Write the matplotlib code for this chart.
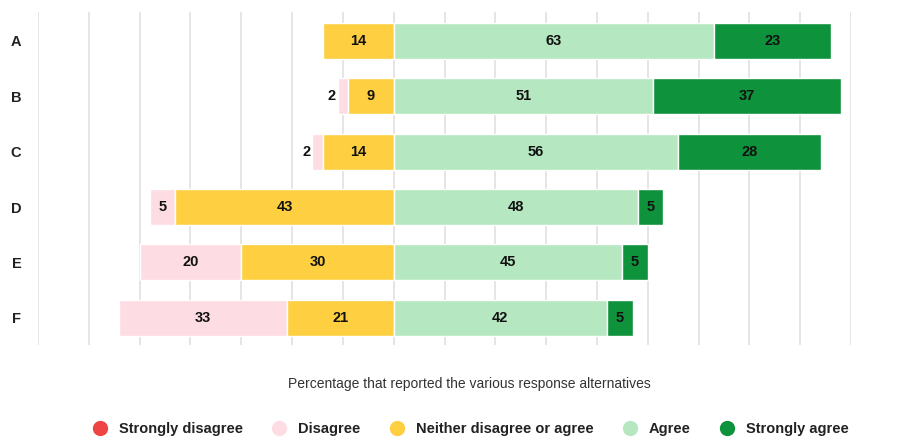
import numpy as np
import matplotlib.pyplot as plt
from matplotlib.lines import Line2D

plt.rcParams['font.family'] = ['Liberation Sans', 'DejaVu Sans']

items = ["A", "B", "C", "D", "E", "F"]
strongly_disagree = [0, 0, 0, 0, 0, 0]
disagree = [0, 2, 2, 5, 20, 33]
neither = [14, 9, 14, 43, 30, 21]
agree = [63, 51, 56, 48, 45, 42]
strongly_agree = [23, 37, 28, 5, 5, 5]

names = ["Strongly disagree", "Disagree", "Neither disagree or agree", "Agree", "Strongly agree"]
colors = ["#ef4444", "#fddde3", "#fecf40", "#b5e8c0", "#0e923c"]

sd = np.array(strongly_disagree)
d = np.array(disagree)
n = np.array(neither)
a = np.array(agree)
sa = np.array(strongly_agree)

# negative side: neutral sits just left of zero, then disagree, then strongly disagree
segments = [
    (sd, -(n + d + sd), colors[0]),
    (d, -(n + d), colors[1]),
    (n, -n, colors[2]),
    (a, np.zeros_like(a), colors[3]),
    (sa, a, colors[4]),
]

fig = plt.figure(figsize=(8.98, 4.38), dpi=100)
ax = fig.add_axes([38 / 898, 1 - 345 / 438, (851 - 38) / 898, (345 - 12) / 438])

y = np.arange(len(items))
for vals, lefts, col in segments:
    ax.barh(y, vals, left=lefts, height=0.65, color=col,
            edgecolor="white", linewidth=1, zorder=2)
    for yi, v, l in zip(y, vals, lefts):
        if v == 0:
            continue
        if v < 4:
            ax.text(l - 0.4, yi, str(v), ha="right", va="center",
                    fontsize=10.5, fontweight="bold", color="#111111", zorder=3)
        else:
            ax.text(l + v / 2, yi, str(v), ha="center", va="center",
                    fontsize=10.5, fontweight="bold", color="#111111", zorder=3)

ax.set_xlim(-70, 90)
ax.set_ylim(5.49, -0.52)
ax.set_xticks(np.arange(-70, 91, 10))
ax.set_xticklabels([])
ax.tick_params(axis="x", length=0)
ax.grid(axis="x", color="#e0e0e0", linewidth=1.2, zorder=0)
ax.set_axisbelow(True)
ax.set_yticks(y)
ax.set_yticklabels(items, fontsize=10.5, fontweight="bold", color="#222222")
ax.tick_params(axis="y", length=0, pad=12)
for s in ax.spines.values():
    s.set_visible(False)

fig.text(0.523, 1 - 384 / 438, "Percentage that reported the various response alternatives",
         ha="center", va="center", fontsize=10, color="#333333")

handles = [Line2D([0], [0], marker="o", linestyle="", markersize=10,
                  markerfacecolor=c, markeredgecolor=c) for c in colors]
leg = fig.legend(handles, names, loc="center", bbox_to_anchor=(0.52, 1 - 429 / 438),
                 ncol=5, frameon=False, handletextpad=0.3, columnspacing=1.5,
                 prop={"size": 10.5, "weight": "bold"})
for t in leg.get_texts():
    t.set_color("#222222")

fig.savefig("out.png", dpi=100)
